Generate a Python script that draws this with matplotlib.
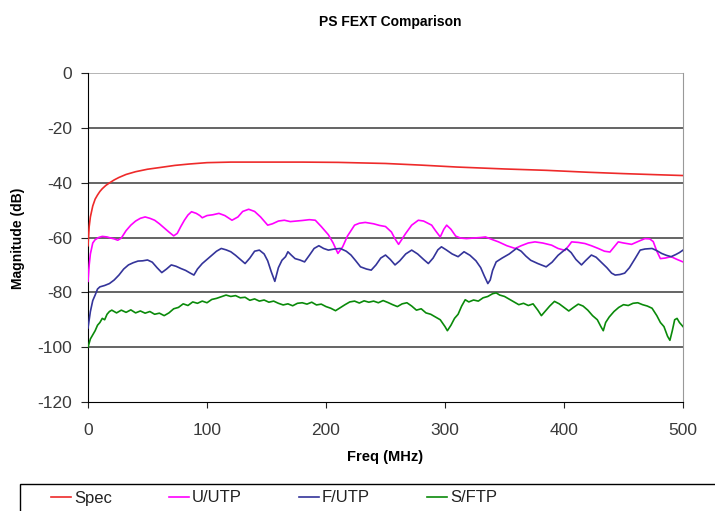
import matplotlib
matplotlib.use("Agg")
import matplotlib.pyplot as plt
from matplotlib.patches import Rectangle

plt.rcParams['font.family'] = ['Liberation Sans', 'DejaVu Sans']
plt.rcParams['axes.unicode_minus'] = False

spec_f = [0, 1, 2, 3, 4, 6, 8, 10, 12, 15, 18, 22, 26, 32, 40, 50, 60, 73, 85, 100, 120, 150, 180, 210, 230, 250, 280, 310, 350, 385, 420, 450, 478, 500]
spec_db = [-63, -56, -52.5, -50.5, -48.5, -46, -44.5, -43.2, -42.2, -41, -40.1, -39, -38.1, -37, -36, -35.1, -34.5, -33.7, -33.2, -32.7, -32.5, -32.5, -32.5, -32.6, -32.8, -33, -33.6, -34.3, -35, -35.5, -36.2, -36.7, -37.1, -37.4]

uutp_f = [0, 1, 2, 4, 6, 9, 12, 16, 19, 22, 25, 28, 32, 36, 40, 44, 48, 52, 56, 60, 64, 68, 72, 75, 78, 81, 84, 87, 91, 94, 96, 100, 105, 110, 115, 121, 126, 130, 135, 140, 145, 151, 155, 160, 165, 170, 175, 180, 186, 191, 196, 202, 206, 210, 214, 218, 224, 228, 233, 240, 245, 250, 255, 258, 261, 264, 267, 272, 277.6, 282, 288.8, 292, 296, 299, 301.4, 305, 309, 313, 318, 324, 330, 334, 340, 345, 352, 359, 364, 370, 375.6, 382, 389.6, 395, 400.8, 404, 406.4, 412, 417.6, 423, 428.8, 434, 438.6, 442, 445.6, 450, 456.8, 462, 468, 472, 475, 478, 481, 485, 490, 495, 500]
uutp_db = [-76, -70, -66, -62, -60.8, -60, -59.6, -59.8, -60.2, -60.5, -61, -60.2, -57.5, -55.5, -54, -53, -52.5, -53, -53.7, -55, -56.5, -58, -59.4, -58.5, -56, -53.7, -51.8, -50.6, -51.2, -52, -52.8, -52, -51.7, -51.2, -52, -53.7, -52.5, -50.5, -49.7, -50.5, -52.5, -55.5, -55, -54, -53.7, -54.2, -54, -53.8, -53.5, -53.7, -56, -59, -62, -65.8, -63.4, -59.5, -55.5, -54.8, -54.5, -55, -55.6, -56, -58, -60.5, -62.5, -60.5, -58.5, -55.5, -53.7, -54, -55.5, -57.5, -59.8, -57, -55.5, -57, -59.5, -60.2, -60.4, -60.2, -60, -59.8, -60.8, -61.6, -63, -64, -63, -62, -61.6, -62, -62.8, -64, -64.7, -63, -61.6, -61.8, -62.2, -63, -64, -65, -65.3, -63.5, -61.6, -62, -62.5, -61.5, -60.4, -60.5, -61.5, -65, -67.7, -67.5, -67, -68, -68.9]

futp_f = [0, 1, 2, 4, 6, 8, 10, 14, 18, 22, 26, 30, 34, 38, 42, 46, 50, 54, 58, 62, 66, 70, 74, 78, 82, 86, 89, 92, 96, 100, 104, 108, 112, 116, 120, 124, 128, 132, 136, 140, 144, 148, 151, 154, 157, 160, 163, 166, 168, 171, 174, 178, 182, 186, 190, 194, 198, 202, 207, 212, 217, 221, 225, 229, 234, 238, 242, 246, 250, 254, 258, 262, 267, 272, 277, 282, 286, 290, 294, 297, 301, 306, 311, 316, 321, 326, 330, 333, 336, 338, 340, 343, 348, 354, 360, 364, 368, 372, 378, 385, 390, 395, 402, 406, 410, 414.7, 418, 423, 427, 431, 436, 440, 443, 447, 451, 455, 460, 464, 468, 474, 478, 482, 486, 490, 494, 497, 500]
futp_db = [-93, -90, -87, -83, -81, -78.8, -78, -77.5, -76.8, -75.5, -73.7, -71.5, -70, -69.2, -68.6, -68.5, -68.2, -69, -71, -72.8, -71.5, -70, -70.5, -71.3, -72, -73, -73.7, -71.5, -69.5, -68, -66.5, -65, -64, -64.5, -65.2, -66.5, -68, -69.5, -67.5, -65, -64.6, -66, -68.5, -72.5, -76, -71, -68.3, -67, -65.2, -66.5, -67.7, -68.2, -68.9, -66.5, -64, -63, -64, -64.6, -64.2, -64, -65, -66.4, -68.5, -70.7, -71.5, -71.9, -70, -67.5, -66.4, -68, -70, -68.5, -66, -64.6, -66, -68, -69.5, -67.5, -64.5, -63.4, -64.5, -66, -67, -65.2, -66.5, -68.5, -71, -74, -76.8, -75.5, -72, -68.9, -67.5, -66, -64, -65, -66.8, -68.3, -69.5, -70.7, -69, -66.5, -64, -65.5, -68, -70, -68.5, -66.4, -67.2, -68.9, -71, -73, -73.7, -73.5, -73, -71, -67.5, -64.6, -64.2, -64, -64.8, -65.8, -66.5, -67, -66.2, -65.5, -64.6]

sftp_f = [0, 2, 4, 6, 8, 10, 12, 14, 16, 18, 20, 24, 28, 32, 36, 40, 44, 48, 52, 56, 60, 64, 68, 72, 76, 80, 84, 88, 92, 96, 100, 104, 108, 112, 116, 120, 124, 128, 132, 136, 140, 144, 148, 152, 156, 160, 164, 168, 172, 176, 180, 184, 188, 192, 196, 200, 204, 208, 212, 216, 220, 224, 228, 232, 236, 240, 244, 248, 252, 256, 260, 264, 268, 272, 276, 280, 284, 288, 292, 296, 300, 302, 305, 308, 311, 314, 317, 320, 324, 328, 332, 336, 340, 343, 346, 350, 354, 358, 362, 366, 370, 374, 378, 381, 384, 388, 392, 396, 400, 404, 408, 412, 416, 420, 424, 428, 431, 433, 435, 438, 442, 446, 450, 454, 458, 462, 466, 470, 474, 478, 481, 484, 487, 489, 491, 493, 495, 497, 500]
sftp_db = [-100, -97, -95.5, -94, -92, -91, -89.5, -90, -88, -87, -86.5, -87.5, -86.5, -87.3, -86.4, -87.5, -86.8, -87.6, -87, -88, -87.6, -88.5, -87.5, -86, -85.5, -84.2, -84.8, -83.5, -84, -83.2, -83.8, -82.6, -82.2, -81.6, -81, -81.5, -81.2, -82, -81.8, -82.9, -82.4, -83.2, -82.8, -83.6, -83.2, -84, -84.6, -84.2, -84.9, -84, -83.8, -84.3, -83.6, -84.6, -84.3, -85.2, -85.8, -86.7, -85.6, -84.5, -83.5, -83.2, -83.9, -83.1, -83.6, -83.2, -83.8, -83, -83.7, -84.5, -85.2, -84.2, -83.8, -85, -86.5, -86, -87.5, -88, -89, -90, -92.5, -94, -92, -89.5, -88, -85, -82.7, -83.5, -82.8, -83.2, -82, -81.5, -80.5, -80.2, -81, -81.5, -82.5, -83.5, -84.5, -84, -84.8, -84.2, -86.5, -88.5, -87, -85, -83.3, -84.2, -85.5, -86.8, -85.5, -84.3, -85, -86.5, -88.5, -90, -92.5, -94, -91, -89, -87, -85.5, -84.5, -84.8, -84, -83.8, -84.5, -85, -85.8, -88.5, -91, -92.5, -96, -97.5, -94, -90, -89.5, -91, -92.5]

series = [
    ("Spec", spec_f, spec_db, "#ee2a2a"),
    ("U/UTP", uutp_f, uutp_db, "#ff00ff"),
    ("F/UTP", futp_f, futp_db, "#34349a"),
    ("S/FTP", sftp_f, sftp_db, "#0a8a0a"),
]

yticks = [0, -20, -40, -60, -80, -100, -120]
xticks = [0, 100, 200, 300, 400, 500]

W, H = 715, 511
fig = plt.figure(figsize=(W / 100, H / 100), dpi=100)
ax = fig.add_axes([88 / W, 1 - 402 / H, (683 - 88) / W, (402 - 73) / H])

for y in yticks[:-1]:
    ax.axhline(y, color="#3a3a3a" if y != 0 else "#a0a0a0", lw=1.1, zorder=1)

for name, f, d, c in series:
    ax.plot(f, d, color=c, lw=1.2, label=name, zorder=3)

ax.set_xlim(0, 500)
ax.set_ylim(-120, 0)
ax.set_xticks(xticks)
ax.set_yticks(yticks)
ax.tick_params(axis='x', direction='out', length=4, labelsize=12.5, pad=11, colors='#222222')
ax.tick_params(axis='y', direction='out', length=5, labelsize=12.5, pad=6.5, colors='#222222')
for lbl in ax.get_xticklabels() + ax.get_yticklabels():
    lbl.set_color('#3a3a3a')

ax.spines['left'].set_color('black')
ax.spines['bottom'].set_color('black')
ax.spines['right'].set_color('#999999')
ax.spines['top'].set_visible(False)

fig.text(385 / W, 1 - 457 / H, "Freq (MHz)", fontsize=10.5, fontweight='bold', ha='center', va='center')
fig.text(18 / W, 1 - 238 / H, "Magnitude (dB)", fontsize=10, fontweight='bold', ha='center', va='center', rotation=90)
fig.text(390 / W, 1 - 22 / H, "PS FEXT Comparison", fontsize=10, fontweight='bold', ha='center', va='center')

leg = fig.legend(loc='center left', bbox_to_anchor=(45 / W, 1 - 498 / H, 458 / W, 0), mode='expand',
                 ncol=4, fontsize=12, handlelength=1.2, handletextpad=0.2, frameon=False,
                 borderaxespad=0, borderpad=0.35)
for t in leg.get_texts():
    t.set_color('#222222')

fig.patches.append(Rectangle((20 / W, -0.2), 1.0, 0.2 + (1 - 484 / H), transform=fig.transFigure,
                             fill=False, edgecolor='black', lw=1.0, clip_on=False))

fig.savefig("out.png", dpi=100)
